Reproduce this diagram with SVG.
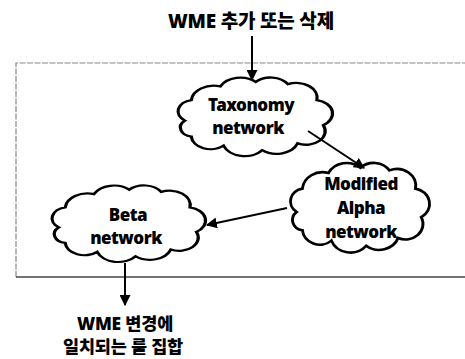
<svg xmlns="http://www.w3.org/2000/svg" xmlns:xlink="http://www.w3.org/1999/xlink" width="465" height="359" viewBox="0 0 465 359">
<style>
text{font-family:"Noto Sans","Noto Sans CJK KR",sans-serif;font-weight:900;fill:#000;text-anchor:middle}
.lbl{font-size:17px;letter-spacing:-0.5px}
.kr{font-size:17.5px;letter-spacing:-0.2px}
.cloud{fill:#fff;stroke:#000;stroke-width:2;vector-effect:non-scaling-stroke}
.conn{stroke:#000;stroke-width:2;fill:none}
</style>
<defs>
<path id="cloud" d="M8,40 A10,10 0 0 1 12,22 A14,14 0 0 1 30,10 A14,14 0 0 1 52,6 A13,13 0 0 1 72,8 A13,13 0 0 1 90,22 A12,12 0 0 1 94,44 A12,12 0 0 1 78,60 A14,14 0 0 1 56,66 A14,14 0 0 1 32,62 A12,12 0 0 1 12,54 A8,8 0 0 1 8,40 Z"/>
<marker id="ah" viewBox="0 0 10 10" refX="9" refY="5" markerWidth="5.5" markerHeight="5.5" orient="auto">
<path d="M0,0 L10,5 L0,10 Z" fill="#000"/>
</marker>
</defs>
<rect width="465" height="359" fill="#fff"/>
<path d="M16,277 L16,63 L470,63" fill="none" stroke="#888" stroke-width="1.2" stroke-dasharray="6,1.5"/>
<path d="M16,277 L470,277" fill="none" stroke="#444" stroke-width="1.5"/>
<g id="taxonomy">
<use xlink:href="#cloud" class="cloud" transform="translate(172,75) scale(1.61,1.14)"/>
<text class="lbl" x="251" y="111">Taxonomy</text>
<text class="lbl" x="248" y="134">network</text>
</g>
<g id="modified-alpha">
<use xlink:href="#cloud" class="cloud" transform="translate(285,160) scale(1.45,1.3)"/>
<text class="lbl" x="361" y="190">Modified</text>
<text class="lbl" x="361" y="214">Alpha</text>
<text class="lbl" x="361" y="238">network</text>
</g>
<g id="beta">
<use xlink:href="#cloud" class="cloud" transform="translate(46,183) scale(1.6,1.11)"/>
<text class="lbl" x="128" y="221">Beta</text>
<text class="lbl" x="126" y="244">network</text>
</g>
<g id="input">
<text class="kr" x="251" y="28" style="font-size:19px">WME 추가 또는 삭제</text>
</g>
<g id="output">
<text class="kr" x="125" y="330">WME 변경에</text>
<text class="kr" x="123" y="353">일치되는 룰 집합</text>
</g>
<g id="connectors">
<line class="conn" x1="252" y1="36" x2="252" y2="80" marker-end="url(#ah)"/>
<line class="conn" x1="308" y1="131" x2="364" y2="168" marker-end="url(#ah)"/>
<line class="conn" x1="287" y1="208" x2="207" y2="225" marker-end="url(#ah)"/>
<line class="conn" x1="125" y1="263" x2="125" y2="305" marker-end="url(#ah)"/>
</g>
</svg>
